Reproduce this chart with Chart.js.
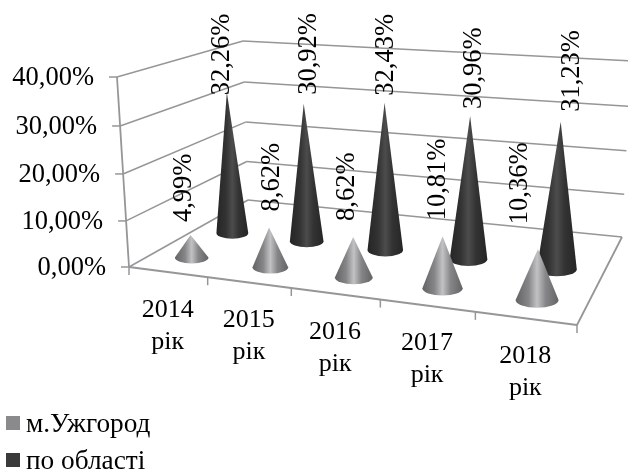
<!DOCTYPE html>
<html>
<head>
<meta charset="utf-8">
<style>
  html, body { margin: 0; padding: 0; background: #fff; }
  canvas { display: block; }
</style>
<script src="https://cdn.jsdelivr.net/npm/chart.js@4/dist/chart.umd.min.js"></script>
</head>
<body>
<canvas id="chart" width="628" height="471"></canvas>
<script>
const categories = ['2014 рік', '2015 рік', '2016 рік', '2017 рік', '2018 рік'];
const seriesNames = ['м.Ужгород', 'по області'];
const uzhhorodValues = [4.99, 8.62, 8.62, 10.81, 10.36];
const regionValues = [32.26, 30.92, 32.43, 30.96, 31.23];
const seriesColors = ['#8a8a8c', '#3a3a3a'];

const FONT = '"Liberation Serif", serif';
const GRID = '#969698';

// corners of the 3D box: front-left, front-right, back-right, back-left
const floorQuad = [[129, 267], [577, 325], [622, 237], [248, 200]];
// rise from each floor corner to the top of the value axis
const riseQuad = [[-12, -190], [4, -210], [9, -176], [-5, -159]];
const seriesDepth = [0.18, 0.52];
// hand placement of the value labels relative to the cone tips
const labelNudge = [
    [[-7, -13], [3, -16], [-6, -16], [-5, -16], [-18, -25]],
    [[-5, 3], [5, -9], [1, -7], [4, -7], [11, -10]]
];

function quadMap(q) {
    const [x0, y0] = q[0], [x1, y1] = q[1], [x2, y2] = q[2], [x3, y3] = q[3];
    const dx1 = x1 - x2, dx2 = x3 - x2, sx = x0 - x1 + x2 - x3;
    const dy1 = y1 - y2, dy2 = y3 - y2, sy = y0 - y1 + y2 - y3;
    const den = dx1 * dy2 - dx2 * dy1;
    const g = (sx * dy2 - dx2 * sy) / den;
    const h = (dx1 * sy - sx * dy1) / den;
    return function (u, d) {
        const w = g * u + h * d + 1;
        return [
            ((x1 - x0 + g * x1) * u + (x3 - x0 + h * x3) * d + x0) / w,
            ((y1 - y0 + g * y1) * u + (y3 - y0 + h * y3) * d + y0) / w
        ];
    };
}

const floorAt = quadMap(floorQuad);

function riseAt(u, d, n) {
    const front = riseQuad[0][n] + (riseQuad[1][n] - riseQuad[0][n]) * u;
    const back = riseQuad[3][n] + (riseQuad[2][n] - riseQuad[3][n]) * u;
    return front + (back - front) * d;
}

// u, t are 0..1 along the category and value scales, d is the depth into the box
function project(u, d, t) {
    const a = floorAt(u, d);
    const k = t * 0.96 / (1 + t * (0.96 - 1));
    return [a[0] + riseAt(u, d, 0) * k, a[1] + riseAt(u, d, 1) * k];
}

function line(ctx, p, q, width) {
    ctx.beginPath();
    ctx.moveTo(p[0], p[1]);
    ctx.lineTo(q[0], q[1]);
    ctx.lineWidth = width;
    ctx.strokeStyle = GRID;
    ctx.stroke();
}

function fmt(v) {
    return v.toFixed(2).replace('.', ',') + '%';
}

function drawBox(chart, ctx) {
    const y = chart.scales.y, x = chart.scales.x, area = chart.chartArea;
    y.ticks.forEach(function (tick) {
        const t = (area.bottom - y.getPixelForValue(tick.value)) / area.height;
        const front = project(0, 0, t), back = project(0, 1, t), right = project(1, 1, t);
        line(ctx, front, back, 1.5);
        line(ctx, back, right, 1.5);
        line(ctx, [front[0] - 8, front[1]], front, 1.5);
        ctx.fillStyle = '#000';
        ctx.font = '26.5px ' + FONT;
        ctx.textAlign = 'right';
        ctx.textBaseline = 'middle';
        ctx.fillText(fmt(tick.value), front[0] - 23, front[1] + 1);
    });
    line(ctx, project(0, 0, 0), project(0, 0, 1), 1.8);
    line(ctx, floorAt(0, 0), floorAt(1, 0), 1.8);
    line(ctx, floorAt(1, 0), floorAt(1, 1), 1.8);

    // ticks on the front edge and the two line category labels
    const step = 1 / categories.length;
    for (let i = 0; i <= categories.length; i++) {
        const p = floorAt(i * step, 0);
        line(ctx, p, [p[0], p[1] + 8], 1.5);
    }
    categories.forEach(function (label, i) {
        const u = (x.getPixelForValue(i) - area.left) / area.width;
        const p = floorAt(u, 0);
        const parts = label.split(' ');
        ctx.fillStyle = '#000';
        ctx.font = '26px ' + FONT;
        ctx.textAlign = 'center';
        ctx.textBaseline = 'middle';
        ctx.fillText(parts[0], p[0], p[1] + 38);
        ctx.fillText(parts[1], p[0], p[1] + 70);
    });
}

function drawCone(ctx, base, tip, rx, shades) {
    const ry = rx * 0.36;
    const grad = ctx.createLinearGradient(base[0] - rx, 0, base[0] + rx, 0);
    grad.addColorStop(0, shades[0]);
    grad.addColorStop(0.3, shades[1]);
    grad.addColorStop(0.5, shades[2]);
    grad.addColorStop(0.7, shades[1]);
    grad.addColorStop(1, shades[0]);
    ctx.beginPath();
    ctx.moveTo(tip[0], tip[1]);
    ctx.lineTo(base[0] + rx, base[1]);
    ctx.ellipse(base[0], base[1], rx, ry, 0, 0, Math.PI);
    ctx.closePath();
    ctx.fillStyle = grad;
    ctx.fill();
}

const coneShades = [['#636365', '#868688', '#c2c2c4'], ['#252525', '#333333', '#4c4c4c']];

const conePlugin = {
    id: 'cones',
    // the bars are replaced by cones, so the native drawing is cancelled
    beforeDatasetsDraw: function (chart) {
        const ctx = chart.ctx, area = chart.chartArea;
        ctx.save();
        drawBox(chart, ctx);

        const tips = [[], []];
        // back row first so the front cones cover it
        [1, 0].forEach(function (s) {
            chart.getDatasetMeta(s).data.forEach(function (bar, i) {
                const u = (bar.x - area.left) / area.width;
                const t = (area.bottom - bar.y) / area.height;
                const du = bar.width / 2 / area.width;
                const base = floorAt(u, seriesDepth[s]);
                const tip = project(u, seriesDepth[s], t);
                const rx = (floorAt(u + du, seriesDepth[s])[0] - floorAt(u - du, seriesDepth[s])[0]) / 2;
                drawCone(ctx, base, tip, rx, coneShades[s]);
                tips[s][i] = tip;
            });
        });

        chart.data.datasets.forEach(function (ds, s) {
            ds.data.forEach(function (v, i) {
                const tip = tips[s][i], nudge = labelNudge[s][i];
                ctx.save();
                ctx.translate(tip[0] + nudge[0], tip[1] + nudge[1]);
                ctx.rotate(-Math.PI / 2);
                ctx.fillStyle = '#000';
                ctx.font = '26.5px ' + FONT;
                ctx.textAlign = 'left';
                ctx.textBaseline = 'middle';
                ctx.fillText(fmt(v), 0, 0);
                ctx.restore();
            });
        });

        // legend, stacked under the plot at the left edge
        chart.data.datasets.forEach(function (ds, s) {
            const top = 416 + s * 37;
            ctx.fillStyle = ds.backgroundColor;
            ctx.fillRect(6, top, 14, 14);
            ctx.fillStyle = '#000';
            ctx.font = '27.3px ' + FONT;
            ctx.textAlign = 'left';
            ctx.textBaseline = 'alphabetic';
            ctx.fillText(ds.label, 26, top + 16);
        });
        ctx.restore();
        return false;
    }
};

new Chart(document.getElementById('chart'), {
    type: 'bar',
    data: {
        labels: categories,
        datasets: [
            { label: seriesNames[0], data: uzhhorodValues, backgroundColor: seriesColors[0] },
            { label: seriesNames[1], data: regionValues, backgroundColor: seriesColors[1] }
        ]
    },
    options: {
        responsive: false,
        animation: false,
        layout: { padding: 0 },
        grouped: false,
        categoryPercentage: 1,
        barPercentage: 0.44,
        plugins: { legend: { display: false }, tooltip: { enabled: false } },
        scales: {
            x: { display: false },
            y: { display: false, min: 0, max: 40, ticks: { stepSize: 10 } }
        }
    },
    plugins: [conePlugin]
});
</script>
</body>
</html>
